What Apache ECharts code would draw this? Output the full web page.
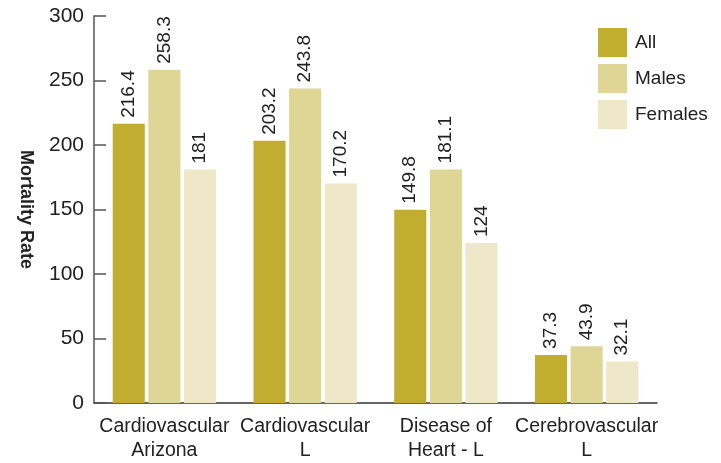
<!DOCTYPE html>
<html>
<head>
<meta charset="utf-8">
<script src="https://cdn.jsdelivr.net/npm/echarts@6/dist/echarts.min.js"></script>
<style>html,body{margin:0;padding:0;background:#fff}#c{width:721px;height:463px}</style>
</head>
<body>
<div id="c"></div>
<script>
const categories = ['Cardiovascular\nArizona', 'Cardiovascular\nL', 'Disease of\nHeart - L', 'Cerebrovascular\nL'];
const seriesNames = ['All', 'Males', 'Females'];
const allValues = [216.4, 203.2, 149.8, 37.3];
const maleValues = [258.3, 243.8, 181.1, 43.9];
const femaleValues = [181, 170.2, 124, 32.1];
const yTicks = [0, 50, 100, 150, 200, 250, 300];
const colors = ['#C1AE30', '#DFD696', '#EEE8C9'];
const FONT = 'Liberation Sans, Arial, sans-serif';
const values = [allValues, maleValues, femaleValues];

const chart = echarts.init(document.getElementById('c'), null, {renderer: 'canvas'});
chart.setOption({
  animation: false,
  textStyle: {fontFamily: FONT},
  grid: {left: 94, right: 64, top: 16, bottom: 60, containLabel: false},
  legend: {
    orient: 'vertical', left: 598, top: 28, padding: 0,
    itemWidth: 29, itemHeight: 29, itemGap: 7,
    icon: 'rect',
    data: seriesNames,
    textStyle: {fontSize: 19, color: '#222', fontFamily: FONT, padding: [0, 0, 0, 3]}
  },
  xAxis: {
    type: 'category',
    data: categories,
    axisLine: {lineStyle: {color: '#333', width: 1.5}},
    axisTick: {inside: true, length: 9, interval: 0, lineStyle: {color: '#333', width: 1.5}},
    axisLabel: {interval: 0, fontSize: 19.5, color: '#222', lineHeight: 24, margin: 12, fontFamily: FONT}
  },
  yAxis: {
    type: 'value', min: yTicks[0], max: yTicks[yTicks.length - 1], interval: 50,
    name: 'Mortality Rate', nameLocation: 'middle', nameRotate: -90, nameGap: 59,
    nameTextStyle: {fontSize: 18, fontWeight: 'bold', color: '#222', fontFamily: FONT},
    splitLine: {show: false},
    axisLine: {show: true, lineStyle: {color: '#555', width: 1.5}},
    axisTick: {show: true, inside: true, length: 12, lineStyle: {color: '#555', width: 1.5}},
    axisLabel: {fontSize: 21, color: '#222', margin: 10, fontFamily: FONT}
  },
  series: seriesNames.map((n, i) => ({
    name: n, type: 'bar', data: values[i],
    barWidth: '22.8%', barGap: '11%',
    itemStyle: {color: colors[i]},
    label: {
      show: true, position: 'top', rotate: 90, align: 'left', verticalAlign: 'middle',
      distance: 6, fontSize: 19, color: '#222', fontFamily: FONT
    }
  }))
});
</script>
</body>
</html>
